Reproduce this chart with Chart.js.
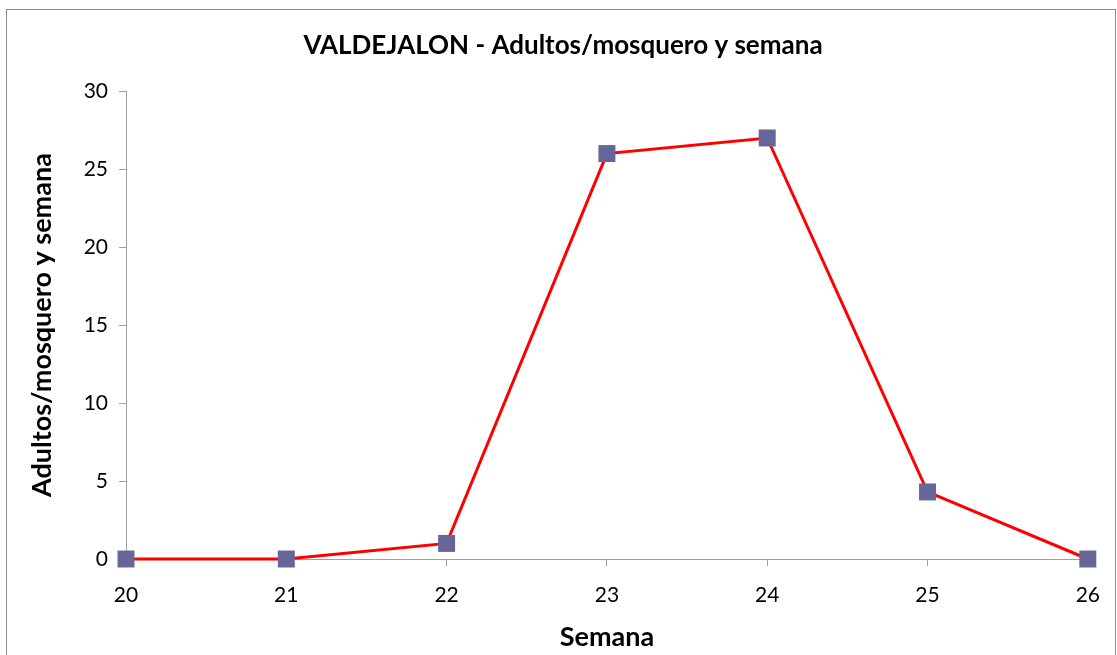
<!DOCTYPE html>
<html>
<head>
<meta charset="utf-8">
<script src="https://cdn.jsdelivr.net/npm/chart.js@4.4.1/dist/chart.umd.min.js"></script>
<style>
    html, body { margin: 0; padding: 0; background: #fff; overflow: hidden; }
    #frame {
        position: absolute; left: 6px; top: 9px;
        width: 1110px; height: 700px;
        border: 1px solid #8c8c8c; box-sizing: border-box;
    }
    #wrap { position: absolute; left: 0; top: 0; width: 1117px; height: 655px; }
</style>
</head>
<body>
<div id="frame"></div>
<div id="wrap"><canvas id="chart" width="1117" height="655"></canvas></div>
<script>
// ------------------------------------------
// Datos
// ------------------------------------------
const semanas = ["20", "21", "22", "23", "24", "25", "26"];
const adultos = [0, 0, 1, 26, 27, 4.3, 0];
const yTicks = [0, 5, 10, 15, 20, 25, 30];

const tituloGrafico = "VALDEJALON - Adultos/mosquero y semana";
const tituloX = "Semana";
const tituloY = "Adultos/mosquero y semana";

const FONT = "Lato, 'Open Sans', sans-serif";
const AXIS_GREY = "#a0a0a0";

// ------------------------------------------
// Gráfico
// ------------------------------------------
function drawChart() {
    const ctx = document.getElementById("chart");

    new Chart(ctx, {
        type: "line",
        data: {
            labels: semanas,
            datasets: [{
                data: adultos,
                borderColor: "#ff0000",
                borderWidth: 3,
                backgroundColor: "#666699",
                pointStyle: "rect",
                pointRadius: 12,
                pointHoverRadius: 12,
                pointBackgroundColor: "#666699",
                pointBorderColor: "#666699",
                pointBorderWidth: 0,
                tension: 0,
                clip: false
            }]
        },
        options: {
            responsive: false,
            animation: false,
            layout: { padding: { left: 35, right: 26, top: 0, bottom: 0 } },
            plugins: {
                legend: { display: false },
                tooltip: { enabled: false },
                title: {
                    display: true,
                    text: tituloGrafico,
                    color: "#000",
                    font: { family: FONT, size: 26, weight: "bold" },
                    padding: { top: 30, bottom: 30 }
                }
            },
            scales: {
                x: {
                    offset: false,
                    grid: {
                        drawOnChartArea: false,
                        drawTicks: true,
                        tickLength: 7,
                        color: AXIS_GREY
                    },
                    border: { display: true, color: AXIS_GREY, width: 1 },
                    ticks: {
                        color: "#000",
                        padding: 17,
                        font: { family: FONT, size: 21 },
                        maxRotation: 0
                    },
                    title: {
                        display: true,
                        text: tituloX,
                        color: "#000",
                        font: { family: FONT, size: 27, weight: "bold" },
                        padding: { top: 0, bottom: 2 }
                    },
                    afterFit: scale => { scale.height = 96; }
                },
                y: {
                    min: 0,
                    max: 30,
                    afterBuildTicks: scale => {
                        scale.ticks = yTicks.map(v => ({ value: v }));
                    },
                    grid: {
                        drawOnChartArea: false,
                        drawTicks: true,
                        tickLength: 7,
                        color: AXIS_GREY
                    },
                    border: { display: true, color: AXIS_GREY, width: 1 },
                    ticks: {
                        color: "#000",
                        padding: 11,
                        font: { family: FONT, size: 21 }
                    },
                    title: {
                        display: true,
                        text: tituloY,
                        color: "#000",
                        font: { family: FONT, size: 27, weight: "bold" },
                        padding: { top: -9, bottom: 0 }
                    },
                    afterFit: scale => { scale.width = 91; }
                }
            }
        }
    });
}

window.addEventListener("DOMContentLoaded", drawChart);
</script>
</body>
</html>
